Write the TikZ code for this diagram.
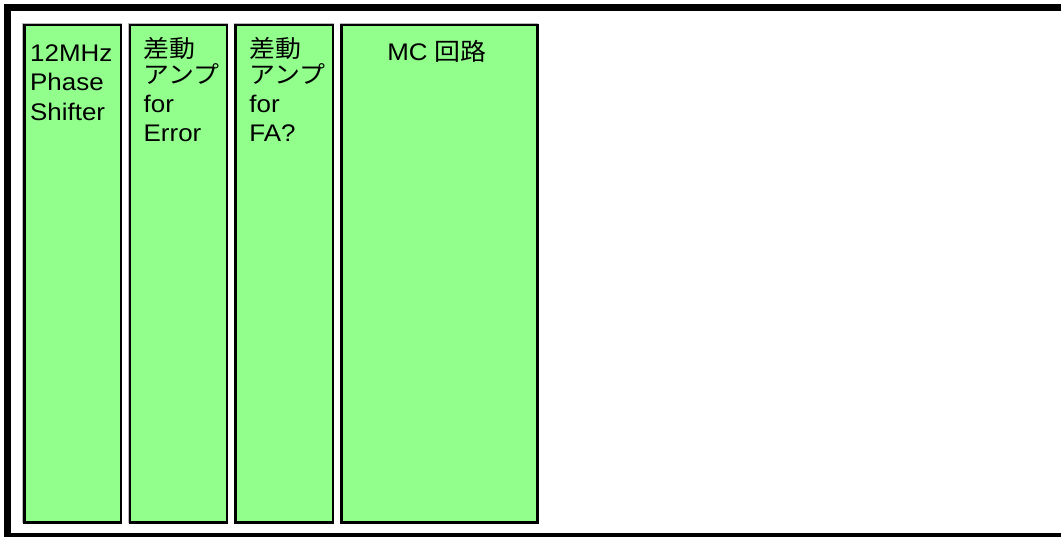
\documentclass[tikz,border=0pt]{standalone}
\usepackage{fontspec}
\setmainfont{Liberation Sans}[FakeStretch=1.08]
\newfontfamily\jp{Noto Sans CJK JP}[FakeStretch=1.08]
\definecolor{boxgreen}{RGB}{146,255,140}
\begin{document}
\begin{tikzpicture}[x=1pt,y=-1pt,
  box/.style={draw=black, line width=2.7pt, fill=boxgreen, inner sep=0pt, anchor=north west},
  shade/.style={draw=black!28, line width=2.7pt},
  lbl/.style={inner sep=0pt, anchor=base west, align=left, font=\fontsize{24}{29.4}\selectfont}]
\useasboundingbox (0,0) rectangle (1061,537);
% outer frame (continues past the right edge)
\draw[line width=7.6pt] (7.3,7.5) rectangle (1100,536.6);
% shadows
\draw[shade] (23.8,24.7) rectangle (120.7,521.8);
\draw[shade] (129.5,24.7) rectangle (226.7,521.8);
\draw[shade] (235.2,24.7) rectangle (332.7,521.8);
\draw[shade] (341.2,24.7) rectangle (536.8,521.8);
% boxes
\node[box, minimum width=96.9pt, minimum height=497.1pt] (b1) at (22.8,23.7) {};
\node[box, minimum width=97.2pt, minimum height=497.1pt] (b2) at (128.5,23.7) {};
\node[box, minimum width=97.5pt, minimum height=497.1pt] (b3) at (234.2,23.7) {};
\node[box, minimum width=195.6pt, minimum height=497.1pt] (b4) at (340.2,23.7) {};
% labels (base anchor = baseline of the last line)
\node[lbl] (t1) at (30,120.4) {12MHz\\Phase\\Shifter};
\node[lbl] (t2) at (143.5,141.7) {{\jp 差動}\\[-3.4pt]{\jp アンプ}\\[-0.6pt]for\\Error};
\node[lbl] (t3) at (249.2,141.7) {{\jp 差動}\\[-3.4pt]{\jp アンプ}\\[-0.6pt]for\\FA?};
\node[lbl, anchor=base] (t4) at (437,60.7) {MC {\jp 回路}};
\end{tikzpicture}
\end{document}
